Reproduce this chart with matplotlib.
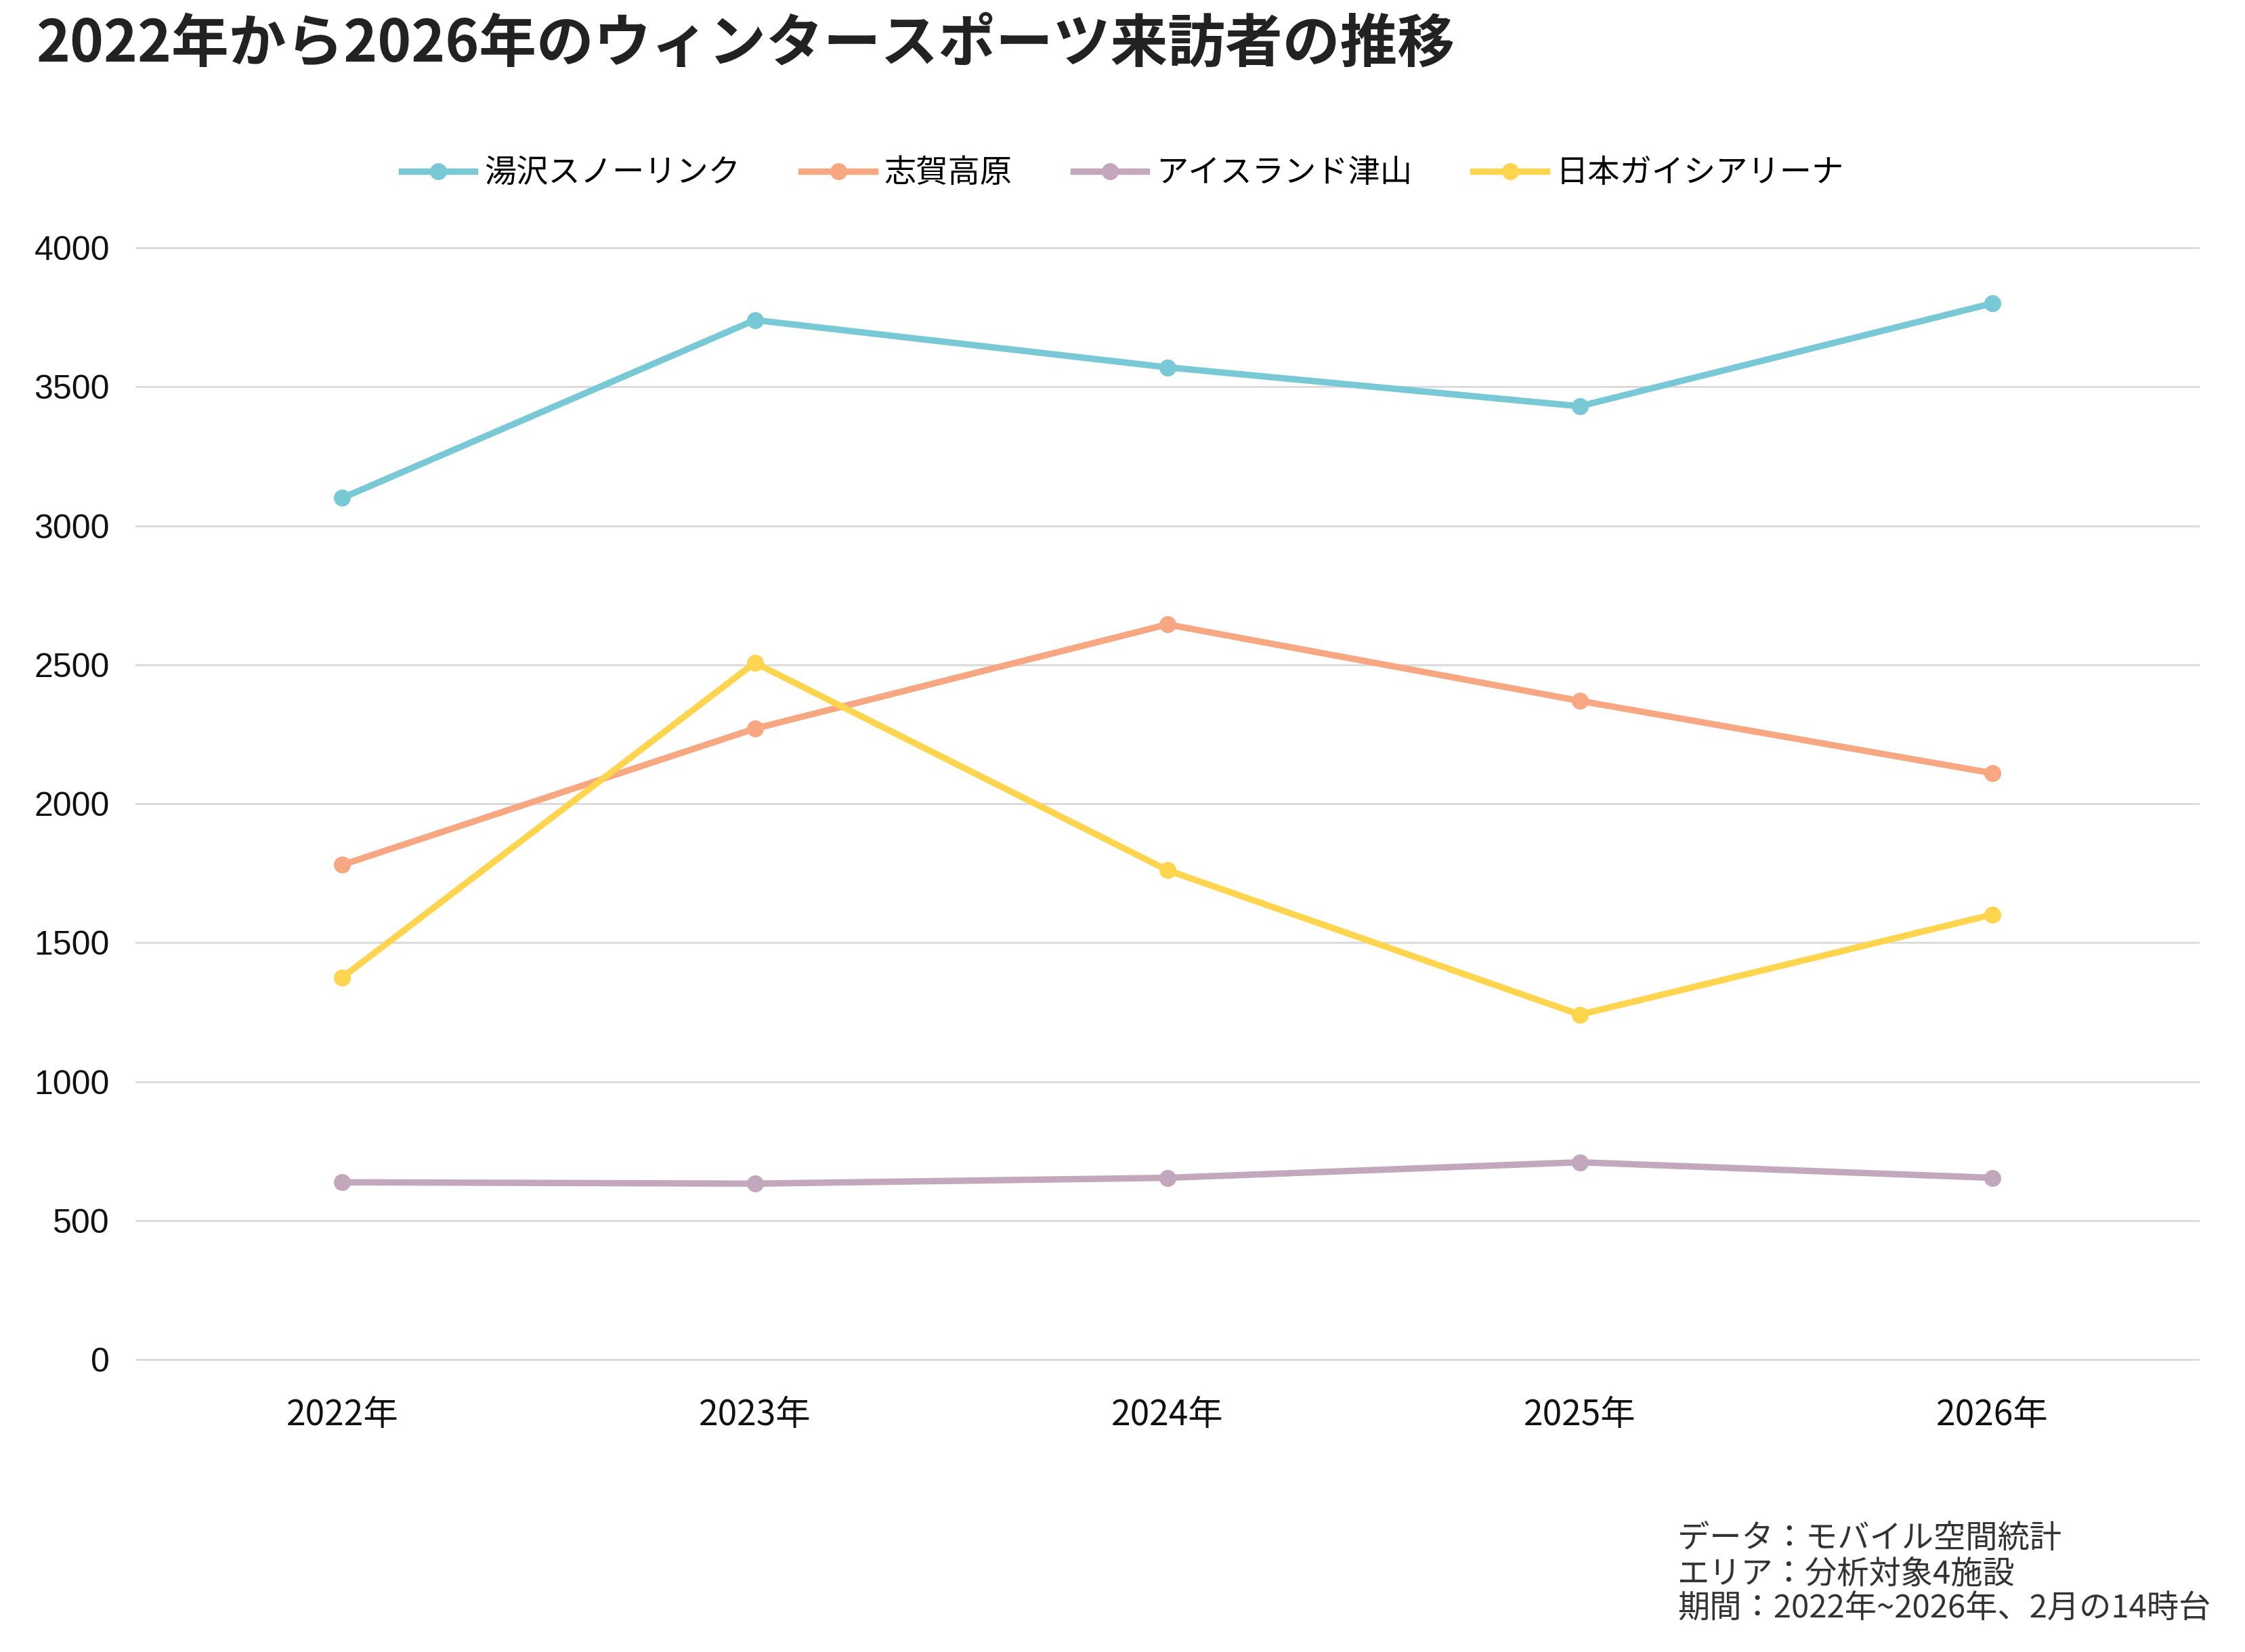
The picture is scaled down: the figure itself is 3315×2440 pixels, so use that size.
import numpy as np
import matplotlib
matplotlib.use("Agg")
import matplotlib.pyplot as plt

# データ
years = ["2022年", "2023年", "2024年", "2025年", "2026年"]
names = ["湯沢スノーリンク", "志賀高原", "アイスランド津山", "日本ガイシアリーナ"]
yuzawa = [3100, 3740, 3570, 3430, 3800]
shiga = [1780, 2270, 2645, 2370, 2110]
tsuyama = [638, 633, 654, 710, 654]
gaishi = [1375, 2507, 1761, 1241, 1601]
colors = ["#78C8D6", "#F7A882", "#C3A7BC", "#FFD54F"]

jp = ["Noto Sans CJK JP", "DejaVu Sans"]
plt.rcParams['font.family'] = jp

fig = plt.figure(figsize=(16.58, 12.2), dpi=200)
ax = fig.add_axes([0.0606, 0.177, 0.9184, 0.673])

x = np.arange(len(years))
for vals, name, c in zip([yuzawa, shiga, tsuyama, gaishi], names, colors):
    ax.plot(x, vals, color=c, lw=3.4, marker="o", ms=8, label=name, clip_on=False, zorder=3)

ax.set_xlim(-0.5, 4.5)
ax.set_ylim(0, 4000)
ax.set_yticks(np.arange(0, 4001, 500))
ax.set_xticks(x)
ax.set_xticklabels(years, fontsize=18.5, color="#111111")
for t in ax.get_yticklabels():
    t.set_family(["Liberation Sans", "DejaVu Sans"])
    t.set_fontsize(18)
    t.set_color("#111111")
ax.tick_params(axis="both", length=0)
ax.tick_params(axis="x", pad=20)
ax.tick_params(axis="y", pad=14)
ax.grid(axis="y", color="#D9D9D9", lw=1.0)
for gl in ax.get_ygridlines():
    gl.set_clip_on(False)
ax.set_axisbelow(True)
for s in ax.spines.values():
    s.set_visible(False)

fig.text(0.016, 0.973, "2022年から2026年のウィンタースポーツ来訪者の推移",
         fontsize=30.5, fontweight="bold", color="#222222", va="center", ha="left")

fig.legend(loc="center", bbox_to_anchor=(0.5, 0.895), ncol=4, frameon=False,
           fontsize=17, handlelength=2.3, handletextpad=0.3, columnspacing=1.9)

fig.text(0.747, 0.016, "データ：モバイル空間統計\nエリア：分析対象4施設\n期間：2022年~2026年、2月の14時台",
         fontsize=17, color="#333333", ha="left", va="bottom", linespacing=1.08)

fig.savefig("out.png", dpi=200)
